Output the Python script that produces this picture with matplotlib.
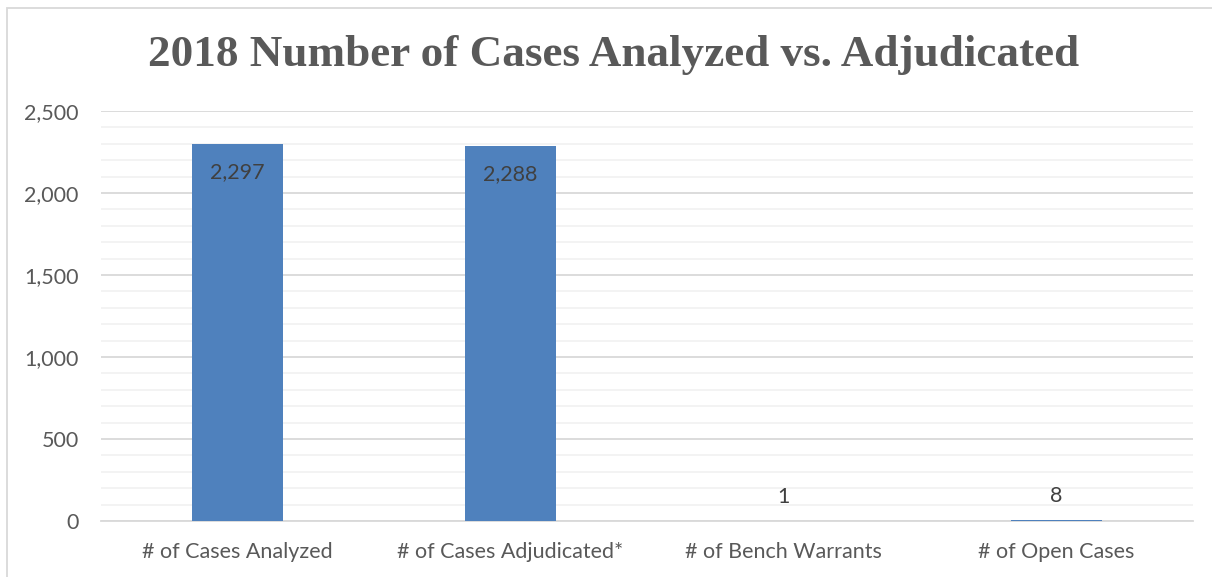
import numpy as np
import matplotlib
matplotlib.use("Agg")
import matplotlib.pyplot as plt
from matplotlib.patches import Rectangle
from matplotlib.ticker import FuncFormatter, MultipleLocator

categories = ["# of Cases Analyzed", "# of Cases Adjudicated*",
              "# of Bench Warrants", "# of Open Cases"]
values = [2297, 2288, 1, 8]
title = "2018 Number of Cases Analyzed vs. Adjudicated"

plt.rcParams["font.family"] = ["Lato", "DejaVu Sans"]

W, H = 1212, 577
fig = plt.figure(figsize=(W / 100, H / 100), dpi=100)
ax = fig.add_axes([101 / W, 1 - 521 / H, (1193 - 101) / W, (521 - 111) / H])

bar_color = "#4F81BD"
text_color = "#595959"
fs = 15.5

x = np.arange(len(categories))
bars = ax.bar(x, values, width=0.333, color=bar_color, zorder=3)

ax.set_xlim(-0.5, len(categories) - 0.5)
ax.set_ylim(0, 2500)
ax.yaxis.set_major_locator(MultipleLocator(500))
ax.yaxis.set_minor_locator(MultipleLocator(100))
ax.yaxis.set_major_formatter(FuncFormatter(lambda v, p: f"{int(v):,}"))
ax.grid(axis="y", which="major", color="#D9D9D9", linewidth=1.3, zorder=0)
ax.grid(axis="y", which="minor", color="#F2F2F2", linewidth=1.3, zorder=0)
ax.set_axisbelow(True)

for s in ["top", "right", "left"]:
    ax.spines[s].set_visible(False)
ax.spines["bottom"].set_color("#D9D9D9")
ax.spines["bottom"].set_linewidth(1.3)

ax.tick_params(axis="both", which="both", length=0, labelsize=fs,
               labelcolor=text_color)
ax.tick_params(axis="y", pad=16)
ax.tick_params(axis="x", pad=15)
ax.set_xticks(x)
ax.set_xticklabels(categories)

for xi, v in zip(x, values):
    if v > 500:
        ax.annotate(f"{v:,}", (xi, v), xytext=(0, -13), textcoords="offset points",
                    ha="center", va="top", fontsize=fs, color="#404040", zorder=4)
    else:
        ax.annotate(f"{v:,}", (xi, v), xytext=(0, 10), textcoords="offset points",
                    ha="center", va="bottom", fontsize=fs, color="#404040", zorder=4)

fig.text(614 / W, 1 - 55 / H, title, ha="center", va="center",
         fontsize=32.5, fontweight="bold", color=text_color,
         family=["Liberation Serif", "DejaVu Serif"])

# chart border
fig.patches.append(Rectangle((7 / W, -0.1), 1.1, 1 - 8 / H + 0.1,
                             transform=fig.transFigure, fill=False,
                             edgecolor="#D9D9D9", linewidth=1.3))

fig.savefig("out.png", dpi=100)
